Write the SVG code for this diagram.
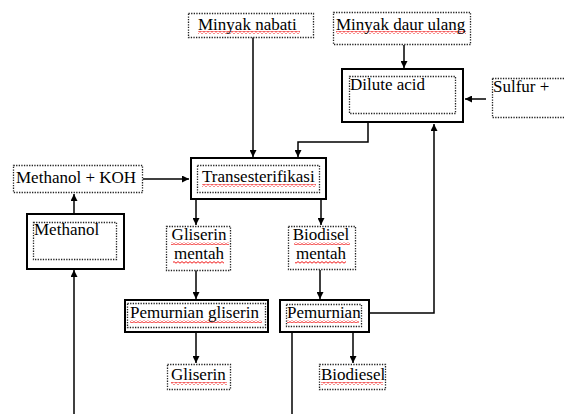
<svg xmlns="http://www.w3.org/2000/svg" width="564" height="414" viewBox="0 0 564 414">
<style>
.t{font-family:"Liberation Serif","Times New Roman","DejaVu Serif",serif;font-size:17px;fill:#000}
.s{fill:#fff;stroke:#000;stroke-width:2}
.d{fill:#fff;stroke:#222;stroke-width:1.3;stroke-dasharray:1.3 1.3}
.di{fill:none;stroke:#222;stroke-width:1.3;stroke-dasharray:1.3 1.3}
.c{fill:none;stroke:#000;stroke-width:1.5}
.w{fill:url(#wave)}
</style>
<defs>
<marker id="a" viewBox="0 0 10 10" refX="10" refY="5" markerWidth="7" markerHeight="7" markerUnits="userSpaceOnUse" orient="auto">
<path d="M0,0 L10,5 L0,10 Z" fill="#000"/>
</marker>
<pattern id="wave" width="4" height="3" patternUnits="userSpaceOnUse">
<path d="M0,2.2 L2,0.6 L4,2.2" fill="none" stroke="#e00" stroke-width="0.9"/>
</pattern>
</defs>
<rect width="564" height="414" fill="#fff"/>
<g id="connectors">
<path class="c" d="M253,37 V157" marker-end="url(#a)"/>
<path class="c" d="M404,45 V68" marker-end="url(#a)"/>
<path class="c" d="M368,122 V142 H298 V157" marker-end="url(#a)"/>
<path class="c" d="M486,99 H465" marker-end="url(#a)"/>
<path class="c" d="M143,179 H189" marker-end="url(#a)"/>
<path class="c" d="M74,214 V194" marker-end="url(#a)"/>
<path class="c" d="M74,414 V270" marker-end="url(#a)"/>
<path class="c" d="M196,199 V225" marker-end="url(#a)"/>
<path class="c" d="M321,199 V225" marker-end="url(#a)"/>
<path class="c" d="M196,270 V299" marker-end="url(#a)"/>
<path class="c" d="M320,270 V299" marker-end="url(#a)"/>
<path class="c" d="M196,332 V363" marker-end="url(#a)"/>
<path class="c" d="M353,332 V363" marker-end="url(#a)"/>
<path class="c" d="M369,313 H434 V124" marker-end="url(#a)"/>
<path class="c" d="M292,332 V414"/>
</g>
<g id="minyak-nabati">
<rect class="d" x="188.5" y="13.5" width="125" height="24"/>
<rect class="w" x="198" y="31" width="102" height="3"/>
<text class="t" x="198" y="30">Minyak nabati</text>
</g>
<g id="minyak-daur-ulang">
<rect class="d" x="333.5" y="12.5" width="137" height="32"/>
<rect class="w" x="336" y="31" width="130" height="3"/>
<text class="t" x="336" y="30">Minyak daur ulang</text>
</g>
<g id="dilute-acid">
<rect class="s" x="342" y="69" width="121" height="53"/>
<rect class="di" x="349.5" y="76.5" width="106" height="37"/>
<text class="t" x="350" y="90">Dilute acid</text>
</g>
<g id="sulfur">
<rect class="d" x="492.5" y="78.5" width="80" height="39"/>
<text class="t" x="493" y="92">Sulfur +</text>
</g>
<g id="methanol-koh">
<rect class="d" x="13.5" y="165.5" width="129" height="27"/>
<text class="t" x="16" y="183">Methanol + KOH</text>
</g>
<g id="transesterifikasi">
<rect class="s" x="191" y="158" width="135" height="41"/>
<rect class="di" x="197.5" y="165.5" width="122" height="27"/>
<rect class="w" x="202" y="184" width="114" height="3"/>
<text class="t" x="202" y="182">Transesterifikasi</text>
</g>
<g id="methanol">
<rect class="s" x="27" y="214" width="97" height="55"/>
<rect class="di" x="33.5" y="222.5" width="83" height="37"/>
<text class="t" x="34" y="235">Methanol</text>
</g>
<g id="gliserin-mentah">
<rect class="d" x="166.5" y="226.5" width="64" height="44"/>
<rect class="w" x="171" y="242" width="58" height="3"/>
<rect class="w" x="173" y="261" width="51" height="3"/>
<text class="t" x="199" y="240" text-anchor="middle">Gliserin</text>
<text class="t" x="199" y="259" text-anchor="middle">mentah</text>
</g>
<g id="biodisel-mentah">
<rect class="d" x="288.5" y="226.5" width="67" height="43"/>
<rect class="w" x="294" y="242" width="56" height="3"/>
<rect class="w" x="295" y="261" width="51" height="3"/>
<text class="t" x="321" y="240" text-anchor="middle">Biodisel</text>
<text class="t" x="321" y="259" text-anchor="middle">mentah</text>
</g>
<g id="pemurnian-gliserin">
<rect class="s" x="125" y="300" width="143" height="32"/>
<rect class="di" x="127.5" y="303.5" width="138" height="24"/>
<rect class="w" x="130" y="320" width="132" height="3"/>
<text class="t" x="130" y="318">Pemurnian gliserin</text>
</g>
<g id="pemurnian">
<rect class="s" x="280" y="300" width="89" height="32"/>
<rect class="di" x="286.5" y="304.5" width="75" height="22"/>
<rect class="w" x="287" y="320" width="72" height="3"/>
<text class="t" x="287" y="318">Pemurnian</text>
</g>
<g id="gliserin">
<rect class="d" x="167.5" y="364.5" width="63" height="25"/>
<rect class="w" x="171" y="382" width="56" height="3"/>
<text class="t" x="171" y="380">Gliserin</text>
</g>
<g id="biodiesel">
<rect class="d" x="319.5" y="364.5" width="66" height="25"/>
<rect class="w" x="321" y="382" width="62" height="3"/>
<text class="t" x="321" y="380">Biodiesel</text>
</g>
</svg>
